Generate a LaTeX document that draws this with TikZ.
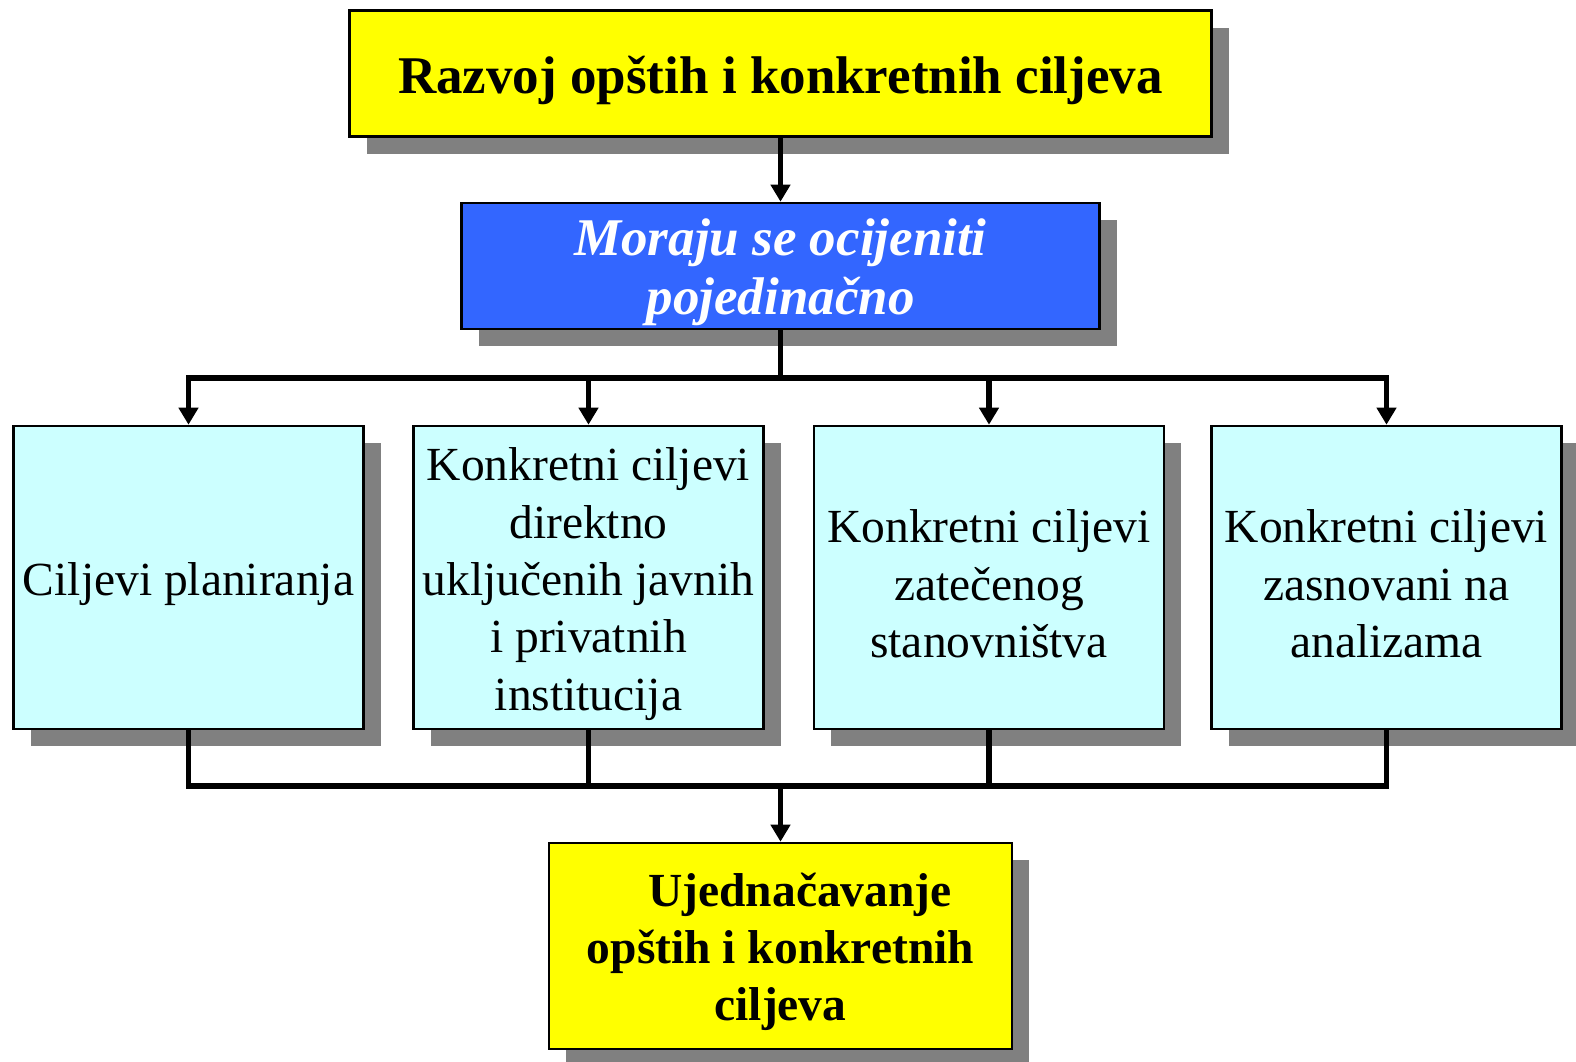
\documentclass[tikz,border=0pt]{standalone}
\usepackage{fontspec}
\setmainfont{Liberation Serif}
\usetikzlibrary{arrows.meta,shadows}
\definecolor{boxyellow}{HTML}{FFFF00}
\definecolor{boxblue}{HTML}{3366FF}
\definecolor{boxcyan}{HTML}{CCFFFF}
\definecolor{shadowgray}{HTML}{808080}
\begin{document}
\begin{tikzpicture}[x=1pt,y=-1pt,
  box/.style={draw=black, line width=2.6pt, inner sep=0pt,
    drop shadow={shadow xshift=17pt, shadow yshift=-17pt, fill=shadowgray, opacity=1}},
  ybox/.style={box, fill=boxyellow},
  bbox/.style={box, fill=boxblue},
  cbox/.style={box, fill=boxcyan, minimum width=350pt, minimum height=303pt},
  label/.style={inner sep=0pt, align=center},
  ctext/.style={inner sep=0pt, align=flush center, text width=350pt, font=\fontsize{47.5}{57.3}\selectfont},
  conn/.style={line width=5.5pt, draw=black},
  arr/.style={conn, -{Triangle[width=19pt,length=17pt]}}
]
\useasboundingbox (0,0) rectangle (1576,1061);
% boxes
\node[ybox, minimum width=862pt, minimum height=126pt] (top) at (780.5,73.5) {};
\node[bbox, minimum width=638pt, minimum height=126pt] (blue) at (780.5,266) {};
\node[cbox] (b1) at (188.5,577.5) {};
\node[cbox] (b2) at (588.5,577.5) {};
\node[cbox] (b3) at (989,577.5) {};
\node[cbox] (b4) at (1386.5,577.5) {};
\node[ybox, minimum width=463pt, minimum height=206pt] (bot) at (780.5,946) {};
% texts
\node[label, font=\fontsize{53}{60}\selectfont\bfseries]
  (ttop) at ([yshift=-6.5pt]top.center) {Razvoj opštih i konkretnih ciljeva};
\node[label, text=white, font=\fontsize{53}{61}\selectfont\bfseries\itshape]
  (tblue) at ([yshift=-6.5pt]blue.center) {Moraju se ocijeniti\\[-2pt]pojedinačno};
\node[ctext] (t1) at ([yshift=-6.5pt]b1.center) {Ciljevi planiranja};
\node[ctext] (t2) at ([yshift=-6.5pt]b2.center) {Konkretni ciljevi\\direktno\\uključenih javnih\\i privatnih\\institucija};
\node[ctext] (t3) at ([yshift=-6.5pt]b3.center) {Konkretni ciljevi\\zatečenog\\stanovništva};
\node[ctext] (t4) at ([yshift=-6.5pt]b4.center) {Konkretni ciljevi\\zasnovani na\\analizama};
\node[label, font=\fontsize{47.5}{57}\selectfont\bfseries]
  (tbot) at ([yshift=-6pt]bot.center) {\hspace*{39pt}Ujednačavanje\\opštih i konkretnih\\ciljeva};
% connectors
\coordinate (j1) at (780.5,378);
\coordinate (j2) at (780.5,786);
\draw[arr] (top.south) -- (blue.north);
\draw[conn] (blue.south) -- (j1);
\draw[arr] (j1) -| (b1.north);
\draw[arr] (j1) -| (b4.north);
\draw[arr] (b2.north |- j1) -- (b2.north);
\draw[arr] (b3.north |- j1) -- (b3.north);
\draw[conn] (b1.south) |- (j2);
\draw[conn] (b4.south) |- (j2);
\draw[conn] (b2.south) -- (b2.south |- j2);
\draw[conn] (b3.south) -- (b3.south |- j2);
\draw[arr] (j2) -- (bot.north);
\end{tikzpicture}
\end{document}
